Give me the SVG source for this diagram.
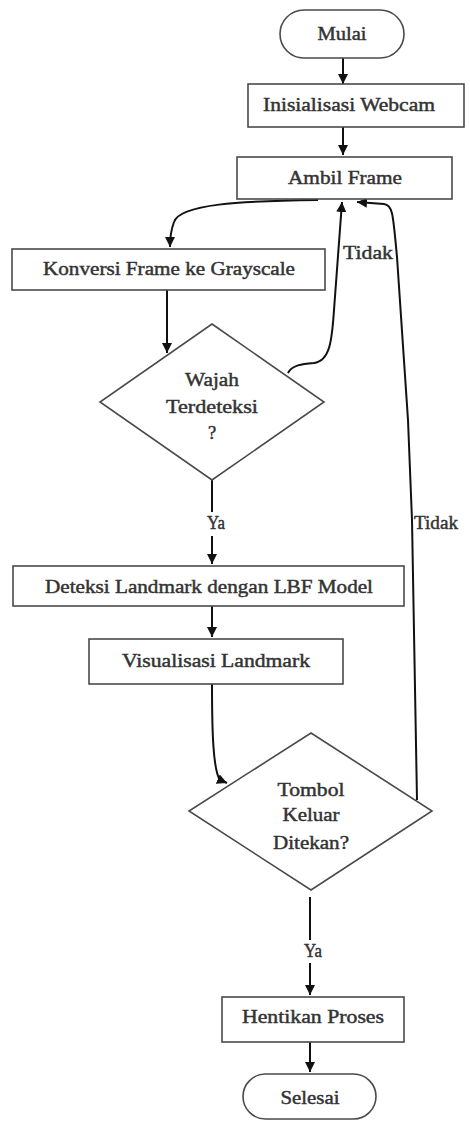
<svg xmlns="http://www.w3.org/2000/svg" width="470" height="1121" viewBox="0 0 470 1121">
  <style>
    .shape { fill: #ffffff; stroke: #4a4a4a; stroke-width: 1.6; }
    .label { font-family: "Liberation Serif", "DejaVu Serif", serif; font-size: 18.5px; fill: #333333; stroke: #333333; stroke-width: 0.45; text-anchor: middle; }
    .edge { fill: none; stroke: #111111; stroke-width: 2; }
  </style>
  <defs>
    <marker id="arrow" viewBox="0 0 10 10" refX="10" refY="5" markerWidth="5" markerHeight="5" orient="auto">
      <path d="M0,0 L10,5 L0,10 Z" fill="#111111"/>
    </marker>
  </defs>
  <rect width="470" height="1121" fill="#ffffff"/>

  <g id="connectors">
    <path class="edge" d="M343,58 L343,84" marker-end="url(#arrow)"/>
    <path class="edge" d="M343,127 L343,155" marker-end="url(#arrow)"/>
    <path class="edge" d="M318,200 C240,201 180,204 174,222 C171,230 170,238 170,247" marker-end="url(#arrow)"/>
    <path class="edge" d="M167,290 L167,353" marker-end="url(#arrow)"/>
    <path class="edge" d="M288,373 C292,365 302,364 314,363 C330,361 332,340 334,310 C337,270 340,230 342,202" marker-end="url(#arrow)"/>
    <path class="edge" d="M212,480 L212,512"/>
    <path class="edge" d="M212,536 L212,564" marker-end="url(#arrow)"/>
    <path class="edge" d="M212,606 L212,637" marker-end="url(#arrow)"/>
    <path class="edge" d="M212,684 C212,730 213,770 220,780 L227,783" marker-end="url(#arrow)"/>
    <path class="edge" d="M417,800 L412,520 L408,420 L397,257 C393,215 393,205 384,204 L357,202" marker-end="url(#arrow)"/>
    <path class="edge" d="M310,897 L310,940"/>
    <path class="edge" d="M310,963 L310,995" marker-end="url(#arrow)"/>
    <path class="edge" d="M310,1042 L310,1072" marker-end="url(#arrow)"/>
  </g>

  <g id="node-mulai">
    <rect class="shape" x="280" y="10" width="124" height="48" rx="24"/>
    <text class="label" x="342" y="40" textLength="49" lengthAdjust="spacingAndGlyphs">Mulai</text>
  </g>
  <g id="node-inisialisasi">
    <rect class="shape" x="248" y="84" width="216" height="43"/>
    <text class="label" x="349" y="111" textLength="172" lengthAdjust="spacingAndGlyphs">Inisialisasi Webcam</text>
  </g>
  <g id="node-ambil">
    <rect class="shape" x="237" y="157" width="215" height="42"/>
    <text class="label" x="345" y="184" textLength="114" lengthAdjust="spacingAndGlyphs">Ambil Frame</text>
  </g>
  <g id="node-konversi">
    <rect class="shape" x="12" y="249" width="313" height="41"/>
    <text class="label" x="169" y="275" textLength="252" lengthAdjust="spacingAndGlyphs">Konversi Frame ke Grayscale</text>
  </g>
  <g id="node-wajah">
    <polygon class="shape" points="212,324 324,402 212,480 100,402"/>
    <text class="label" x="212" y="386" textLength="54" lengthAdjust="spacingAndGlyphs">Wajah</text>
    <text class="label" x="212" y="413" textLength="92" lengthAdjust="spacingAndGlyphs">Terdeteksi</text>
    <text class="label" x="212" y="439">?</text>
  </g>
  <g id="node-deteksi">
    <rect class="shape" x="13" y="566" width="391" height="40"/>
    <text class="label" x="209" y="593" textLength="328" lengthAdjust="spacingAndGlyphs">Deteksi Landmark dengan LBF Model</text>
  </g>
  <g id="node-visualisasi">
    <rect class="shape" x="89" y="639" width="254" height="45"/>
    <text class="label" x="216" y="667" textLength="188" lengthAdjust="spacingAndGlyphs">Visualisasi Landmark</text>
  </g>
  <g id="node-tombol">
    <polygon class="shape" points="311,733 432,811 311,890 189,811"/>
    <text class="label" x="311" y="796" textLength="67" lengthAdjust="spacingAndGlyphs">Tombol</text>
    <text class="label" x="311" y="821" textLength="57" lengthAdjust="spacingAndGlyphs">Keluar</text>
    <text class="label" x="311" y="849" textLength="76" lengthAdjust="spacingAndGlyphs">Ditekan?</text>
  </g>
  <g id="node-hentikan">
    <rect class="shape" x="222" y="997" width="182" height="45"/>
    <text class="label" x="313" y="1023" textLength="142" lengthAdjust="spacingAndGlyphs">Hentikan Proses</text>
  </g>
  <g id="node-selesai">
    <rect class="shape" x="243" y="1074" width="133" height="45" rx="22.5"/>
    <text class="label" x="310" y="1104" textLength="59" lengthAdjust="spacingAndGlyphs">Selesai</text>
  </g>

  <g id="edge-labels">
    <text class="label" x="368" y="259" textLength="50" lengthAdjust="spacingAndGlyphs">Tidak</text>
    <text class="label" x="216" y="529" textLength="18" lengthAdjust="spacingAndGlyphs">Ya</text>
    <text class="label" x="436" y="529" textLength="44" lengthAdjust="spacingAndGlyphs">Tidak</text>
    <text class="label" x="313" y="957" textLength="18" lengthAdjust="spacingAndGlyphs">Ya</text>
  </g>
</svg>
